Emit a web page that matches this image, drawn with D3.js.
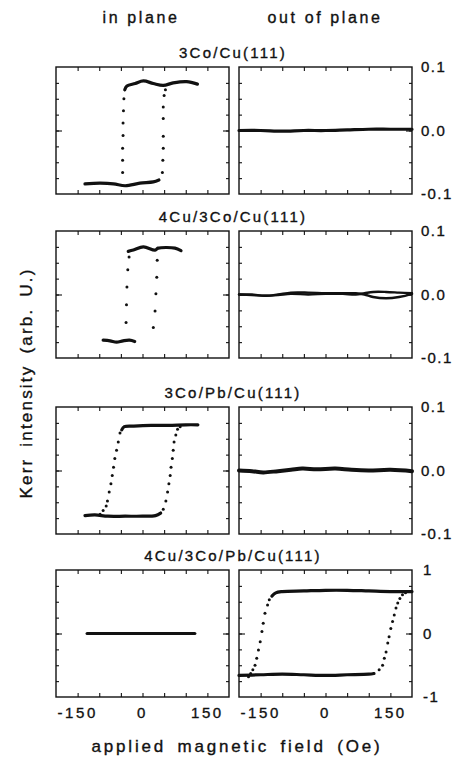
<!DOCTYPE html>
<html>
<head>
<meta charset="utf-8">
<script src="https://cdn.jsdelivr.net/npm/d3@7"></script>
<style>
  body { margin: 0; background: #fff; }
  text { font-family: "Liberation Sans", Arial, sans-serif; fill: #111; stroke: #111; stroke-width: 0.35px; }
</style>
</head>
<body>
<div id="chart"></div>
<script>
"use strict";

// === Data ===
const columnTitles = ["in plane", "out of plane"];
const panelTitles = ["3Co/Cu(111)", "4Cu/3Co/Cu(111)", "3Co/Pb/Cu(111)", "4Cu/3Co/Pb/Cu(111)"];
const fieldTicks = [-150, -100, -50, 0, 50, 100, 150];
const fieldLabels = [-150, 0, 150];
const kerrMax = [0.1, 0.1, 0.1, 1];
const kerrTicksSmall = [-0.075, -0.05, -0.025, 0, 0.025, 0.05, 0.075];
const kerrTicksLarge = [-0.75, -0.5, -0.25, 0, 0.25, 0.5, 0.75];
const kerrLabelsSmall = ["0.1", "0.0", "-0.1"];
const kerrLabelsLarge = ["1", "0", "-1"];

// dense parts of each loop -> thick traces [field (Oe), kerr]
// sparse switching parts -> single dots
// row 1: 3Co/Cu(111)
const r1InUpper = [[127, 0.073], [102, 0.077], [71, 0.075], [48, 0.071], [25, 0.074], [2, 0.078], [-17, 0.074], [-36, 0.070], [-41, 0.064]];
const r1InLower = [[-133, -0.084], [-98, -0.083], [-67, -0.084], [-40, -0.087], [-6, -0.083], [25, -0.081], [38, -0.078]];
const r1InDots = [[-43, 0.050], [-44, 0.031], [-45, 0.012], [-45, -0.008], [-46, -0.028], [-46, -0.047], [-46, -0.066],
                  [46, -0.066], [47, -0.047], [48, -0.028], [48, -0.009], [48, 0.019], [48, 0.037], [50, 0.055], [53, 0.064]];
const r1Out = [[-200, 0.000], [-150, 0.000], [-100, -0.001], [-50, 0.000], [0, 0.000], [50, 0.001], [100, 0.002], [150, 0.002], [200, 0.002]];

// row 2: 4Cu/3Co/Cu(111)
const r2InUpper = [[-33, 0.068], [-21, 0.070], [2, 0.075], [29, 0.070], [36, 0.073], [56, 0.074], [75, 0.073], [89, 0.069]];
const r2InLower = [[-91, -0.072], [-75, -0.073], [-60, -0.075], [-45, -0.073], [-30, -0.072], [-18, -0.074]];
const r2InDots = [[-31, 0.059], [-34, 0.039], [-36, 0.012], [-37, -0.016], [-38, -0.044],
                  [25, -0.052], [29, -0.026], [31, 0.001], [33, 0.027], [34, 0.054]];
const r2OutA = [[-200, 0.000], [-170, 0.000], [-140, -0.002], [-110, 0.000], [-80, 0.003], [-40, 0.003], [0, 0.002], [40, 0.002], [70, 0.002], [90, 0.000], [110, -0.004], [140, -0.006], [170, -0.004], [200, 0.001]];
const r2OutB = [[-200, 0.000], [-170, -0.001], [-140, -0.002], [-110, -0.001], [-80, 0.001], [-40, 0.000], [0, 0.001], [40, 0.001], [70, 0.000], [90, 0.002], [110, 0.004], [140, 0.004], [170, 0.003], [200, 0.002]];

// row 3: 3Co/Pb/Cu(111)
const r3InUpper = [[128, 0.072], [100, 0.072], [60, 0.071], [20, 0.071], [-20, 0.070], [-42, 0.069], [-48, 0.064]];
const r3InLower = [[-133, -0.071], [-110, -0.070], [-80, -0.072], [-40, -0.072], [0, -0.072], [30, -0.071], [42, -0.067]];
const r3InDots = [[-52, 0.059], [-56, 0.045], [-60, 0.032], [-64, 0.019], [-67, 0.005], [-70, -0.008], [-73, -0.021], [-77, -0.034], [-81, -0.048], [-84, -0.056], [-91, -0.063], [-98, -0.069],
                  [48, -0.061], [54, -0.048], [58, -0.034], [61, -0.021], [64, -0.008], [66, 0.005], [69, 0.019], [71, 0.032], [73, 0.045], [77, 0.056], [81, 0.065], [87, 0.069]];
const r3Out = [[-200, 0.000], [-170, -0.001], [-144, -0.003], [-110, -0.001], [-80, 0.001], [-54, 0.003], [-20, 0.002], [23, 0.003], [60, 0.001], [100, 0.000], [150, 0.001], [200, -0.001]];

// row 4: 4Cu/3Co/Pb/Cu(111)
const r4In = [[-128, 0.00], [-60, 0.00], [0, 0.00], [60, 0.00], [121, 0.00]];
const r4OutUpper = [[200, 0.66], [150, 0.66], [100, 0.67], [50, 0.68], [0, 0.68], [-50, 0.67], [-100, 0.66], [-115, 0.64], [-124, 0.59]];
const r4OutLower = [[-200, -0.66], [-150, -0.65], [-100, -0.64], [-50, -0.65], [0, -0.66], [50, -0.65], [100, -0.64], [112, -0.63]];
const r4OutDots = [[-130, 0.53], [-134, 0.45], [-140, 0.32], [-144, 0.16], [-147, 0.03], [-151, -0.13], [-155, -0.26], [-159, -0.39], [-163, -0.50], [-168, -0.57], [-173, -0.63], [-178, -0.68],
                   [124, -0.57], [132, -0.50], [136, -0.39], [140, -0.29], [144, -0.15], [147, -0.05], [151, 0.08], [155, 0.19], [159, 0.29], [163, 0.40], [167, 0.48], [172, 0.55], [178, 0.61], [185, 0.64]];

const panels = [
  { row: 0, col: 0, traces: [r1InUpper, r1InLower], dots: r1InDots },
  { row: 0, col: 1, traces: [r1Out], dots: [] },
  { row: 1, col: 0, traces: [r2InUpper, r2InLower], dots: r2InDots },
  { row: 1, col: 1, traces: [r2OutA, r2OutB], dots: [], thin: true },
  { row: 2, col: 0, traces: [r3InUpper, r3InLower], dots: r3InDots },
  { row: 2, col: 1, traces: [r3Out], dots: [], thick: true },
  { row: 3, col: 0, traces: [r4In], dots: [] },
  { row: 3, col: 1, traces: [r4OutUpper, r4OutLower], dots: r4OutDots }
];

// === Layout ===
const width = 456, height = 759;
const rowTops = [67, 231, 407, 570];
const rowH = 127;
const colLeft = [56, 239];
const colW = 173;

const svg = d3.select("#chart").append("svg")
  .attr("width", width)
  .attr("height", height);

// column headers
[141, 325].forEach((x, i) => {
  svg.append("text")
    .attr("x", x).attr("y", 23)
    .attr("text-anchor", "middle")
    .attr("font-size", 16)
    .attr("letter-spacing", "2.6px")
    .text(columnTitles[i]);
});

panelTitles.forEach((t, i) => {
  svg.append("text")
    .attr("x", 233).attr("y", rowTops[i] - 9)
    .attr("text-anchor", "middle")
    .attr("font-size", 15)
    .attr("letter-spacing", "2.2px")
    .text(t);
});

const line = d3.line().curve(d3.curveCatmullRom);

panels.forEach(p => {
  const x0 = colLeft[p.col], y0 = rowTops[p.row];
  const ymax = kerrMax[p.row];
  const x = d3.scaleLinear().domain([-200, 200]).range([x0, x0 + colW]);
  const y = d3.scaleLinear().domain([-ymax, ymax]).range([y0 + rowH, y0]);
  const yTicks = p.row === 3 ? kerrTicksLarge : kerrTicksSmall;
  const g = svg.append("g");

  // inward ticks
  g.append("g").attr("transform", `translate(0,${y0 + rowH})`)
    .call(d3.axisBottom(x).tickValues(fieldTicks).tickSize(-4).tickFormat(""));
  g.append("g").attr("transform", `translate(0,${y0})`)
    .call(d3.axisTop(x).tickValues(fieldTicks).tickSize(-4).tickFormat(""));
  g.append("g").attr("transform", `translate(${x0},0)`)
    .call(d3.axisLeft(y).tickValues(yTicks).tickSize(-3).tickFormat(""));
  g.append("g").attr("transform", `translate(${x0 + colW},0)`)
    .call(d3.axisRight(y).tickValues(yTicks).tickSize(-3).tickFormat(""));
  // longer zero ticks
  g.append("g").attr("transform", `translate(${x0},0)`)
    .call(d3.axisLeft(y).tickValues([0]).tickSize(-6).tickFormat(""));
  g.append("g").attr("transform", `translate(${x0 + colW},0)`)
    .call(d3.axisRight(y).tickValues([0]).tickSize(-6).tickFormat(""));
  g.selectAll(".domain").remove();
  g.selectAll(".tick line").attr("stroke", "#111").attr("stroke-width", 1.1);

  // frame
  g.append("rect")
    .attr("x", x0).attr("y", y0)
    .attr("width", colW).attr("height", rowH)
    .attr("fill", "none").attr("stroke", "#111").attr("stroke-width", 1.4);

  p.traces.forEach(tr => {
    g.append("path")
      .attr("d", line(tr.map(d => [x(d[0]), y(d[1])])))
      .attr("fill", "none")
      .attr("stroke", "#111")
      .attr("stroke-width", p.thick ? 4 : (p.thin ? 2.4 : 3.2))
      .attr("stroke-linecap", "round")
      .attr("stroke-linejoin", "round");
  });

  g.selectAll("circle.dot").data(p.dots).enter()
    .append("circle")
    .attr("cx", d => x(d[0]))
    .attr("cy", d => y(d[1]))
    .attr("r", 1.5)
    .attr("fill", "#111");

  // right-hand value labels
  if (p.col === 1) {
    const labs = p.row === 3 ? kerrLabelsLarge : kerrLabelsSmall;
    [ymax, 0, -ymax].forEach((v, i) => {
      svg.append("text")
        .attr("x", x0 + colW + (p.row === 3 ? 11 : 9))
        .attr("y", y(v))
        .attr("dy", "0.36em")
        .attr("font-size", 15)
        .attr("letter-spacing", "1.5px")
        .text(labs[i]);
    });
  }

  // bottom field labels
  if (p.row === 3) {
    fieldLabels.forEach(v => {
      svg.append("text")
        .attr("x", x(v))
        .attr("y", y0 + rowH + 21)
        .attr("text-anchor", "middle")
        .attr("font-size", 15)
        .attr("letter-spacing", "2.6px")
        .text(v);
    });
  }
});

// axis titles
svg.append("text")
  .attr("x", 237).attr("y", 752)
  .attr("text-anchor", "middle")
  .attr("font-size", 17)
  .attr("letter-spacing", "2.8px")
  .attr("word-spacing", "4px")
  .text("applied magnetic field (Oe)");

svg.append("text")
  .attr("transform", "translate(32,383) rotate(-90)")
  .attr("text-anchor", "middle")
  .attr("font-size", 17)
  .attr("letter-spacing", "2.2px")
  .attr("word-spacing", "4px")
  .text("Kerr intensity (arb. U.)");
</script>
</body>
</html>
